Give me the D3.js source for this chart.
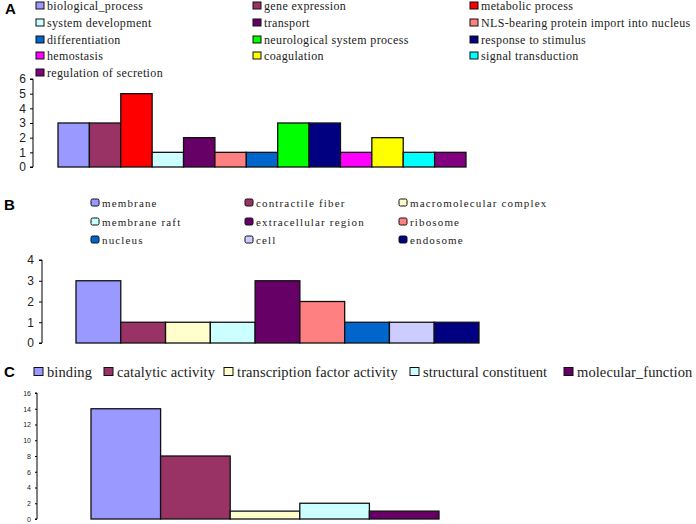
<!DOCTYPE html>
<html><head><meta charset="utf-8">
<script src="https://cdn.jsdelivr.net/npm/d3@7"></script>
<style>body{margin:0;background:#fff}svg{display:block}</style>
</head><body>
<svg id="c" width="696" height="524"></svg>
<script>
// Panel A data
const catsA = ["biological_process","gene expression","metabolic process","system development","transport","NLS-bearing protein import into nucleus","differentiation","neurological system process","response to stimulus","hemostasis","coagulation","signal transduction","regulation of secretion"];
const valsA = [3,3,5,1,2,1,1,3,3,1,2,1,1];
const colsA = ["#9999FF","#993366","#FF0000","#CCFFFF","#660066","#FF8080","#0066CC","#00FF00","#000080","#FF00FF","#FFFF00","#00FFFF","#800080"];
const ticksA = [0,1,2,3,4,5,6];
// Panel B data
const catsB = ["membrane","contractile fiber","macromolecular complex","membrane raft","extracellular region","ribosome","nucleus","cell","endosome"];
const valsB = [3,1,1,1,3,2,1,1,1];
const colsB = ["#9999FF","#993366","#FFFFCC","#CCFFFF","#660066","#FF8080","#0066CC","#CCCCFF","#000080"];
const ticksB = [0,1,2,3,4];
// Panel C data
const catsC = ["binding","catalytic activity","transcription factor activity","structural constituent","molecular_function"];
const valsC = [14,8,1,2,1];
const colsC = ["#9999FF","#993366","#FFFFCC","#CCFFFF","#660066"];
const ticksC = [0,2,4,6,8,10,12,14,16];

const svg = d3.select("#c");
const serif = "'Liberation Serif','Times New Roman',serif";
const sans = "'Liberation Sans',Arial,sans-serif";

function panel(cfg){
  const g = svg.append("g");
  const x = d3.scaleBand().domain(cfg.cats).range(cfg.xr).paddingInner(0).paddingOuter(0);
  const y = d3.scaleLinear().domain(cfg.yd).range(cfg.yr);
  // axis
  const ax = d3.axisLeft(y).tickValues(cfg.ticks).tickSize(cfg.tick).tickPadding(cfg.pad).tickFormat(d3.format("d"));
  const ag = g.append("g").attr("transform",`translate(${cfg.ax},0)`).call(ax);
  ag.select(".domain").attr("stroke","#000").attr("stroke-width",1).attr("d",`M${-cfg.tick},${cfg.yr[1]}H0V${cfg.yr[0]}H${-cfg.tick}`);
  ag.selectAll(".tick line").attr("stroke","#000");
  ag.selectAll(".tick text").attr("font-family",sans).attr("font-size",cfg.tfs).attr("fill","#222");
  // bars
  g.selectAll("rect.bar").data(cfg.cats).enter().append("rect")
    .attr("x",d=>x(d)).attr("width",x.bandwidth())
    .attr("y",(d,i)=>y(cfg.vals[i])).attr("height",(d,i)=>y(0)-y(cfg.vals[i]))
    .attr("fill",(d,i)=>cfg.cols[i]).attr("stroke","#111").attr("stroke-width",1.3);
  // legend
  cfg.cats.forEach((c,i)=>{
    const col = i % cfg.ncol, row = Math.floor(i/cfg.ncol);
    const lx = cfg.legX[col], ly = cfg.legY[row];
    g.append("rect").attr("x",lx).attr("y",ly-cfg.sw/2).attr("width",cfg.sw).attr("height",cfg.sw-1)
      .attr("rx",cfg.rx||0)
      .attr("fill",cfg.cols[i]).attr("stroke","#111").attr("stroke-width",1);
    g.append("text").attr("x",lx+cfg.sw+cfg.gap).attr("y",ly).attr("dy","0.32em")
      .attr("font-family",serif).attr("font-size",cfg.lfs).attr("letter-spacing",cfg.ls)
      .attr("fill","#222").text(c);
  });
  svg.append("text").attr("x",cfg.lab[0]).attr("y",cfg.lab[1]).attr("dy","0.35em")
    .attr("font-family",sans).attr("font-weight","bold").attr("font-size",15).text(cfg.label);
}

panel({cats:catsA,vals:valsA,cols:colsA,ticks:ticksA,yd:[0,6],xr:[58,466],yr:[167,79],ax:33,tick:3,pad:4,tfs:12,
  ncol:3,legX:[36,253,470],legY:[6,23,40,56,73],sw:8,gap:3,lfs:12,ls:0.35,lab:[5,9],label:"A"});
panel({cats:catsB,vals:valsB,cols:colsB,ticks:ticksB,yd:[0,4],xr:[76,479],yr:[343,260],ax:42,tick:3,pad:5,tfs:12,
  ncol:3,legX:[91,245,399],legY:[203,222,240],sw:8,gap:3,lfs:11,ls:1.15,rx:1.5,lab:[4,205],label:"B"});
panel({cats:catsC,vals:valsC,cols:colsC,ticks:ticksC,yd:[0,16],xr:[91,439],yr:[519,393],ax:37,tick:2,pad:4,tfs:7,
  ncol:5,legX:[34,104,224,410,564],legY:[372],sw:9,gap:4,lfs:14.5,ls:0.1,lab:[4,372],label:"C"});
</script>
</body></html>
